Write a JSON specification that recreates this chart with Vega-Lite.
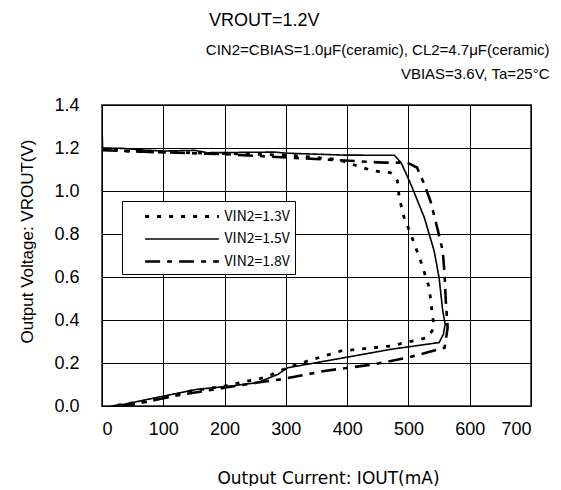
{
  "$schema": "https://vega.github.io/schema/vega-lite/v6.json",
  "width": 429,
  "height": 301,
  "padding": {"left": 18, "top": 12, "right": 10, "bottom": 0},
  "background": "white",
  "title": {
    "text": "VROUT=1.2V",
    "anchor": "start",
    "frame": "group",
    "dx": 107,
    "font": "Liberation Sans",
    "fontSize": 18,
    "fontWeight": "normal",
    "color": "#000",
    "offset": 12
  },
  "data": {
    "values": [
      {"s": "VIN2=1.5V", "k": 0, "i": 0, "v": 1.30},
      {"s": "VIN2=1.5V", "k": 1, "i": 1, "v": 1.20},
      {"s": "VIN2=1.5V", "k": 2, "i": 20, "v": 1.199},
      {"s": "VIN2=1.5V", "k": 3, "i": 36, "v": 1.198},
      {"s": "VIN2=1.5V", "k": 4, "i": 70, "v": 1.19},
      {"s": "VIN2=1.5V", "k": 5, "i": 102, "v": 1.186},
      {"s": "VIN2=1.5V", "k": 6, "i": 151, "v": 1.189},
      {"s": "VIN2=1.5V", "k": 7, "i": 172, "v": 1.178},
      {"s": "VIN2=1.5V", "k": 8, "i": 281, "v": 1.181},
      {"s": "VIN2=1.5V", "k": 9, "i": 300, "v": 1.176},
      {"s": "VIN2=1.5V", "k": 10, "i": 395, "v": 1.167},
      {"s": "VIN2=1.5V", "k": 11, "i": 477, "v": 1.166},
      {"s": "VIN2=1.5V", "k": 12, "i": 488, "v": 1.132},
      {"s": "VIN2=1.5V", "k": 13, "i": 504, "v": 1.031},
      {"s": "VIN2=1.5V", "k": 14, "i": 526, "v": 0.876},
      {"s": "VIN2=1.5V", "k": 15, "i": 542, "v": 0.721},
      {"s": "VIN2=1.5V", "k": 16, "i": 550, "v": 0.597},
      {"s": "VIN2=1.5V", "k": 17, "i": 556, "v": 0.442},
      {"s": "VIN2=1.5V", "k": 18, "i": 560, "v": 0.380},
      {"s": "VIN2=1.5V", "k": 19, "i": 557, "v": 0.333},
      {"s": "VIN2=1.5V", "k": 20, "i": 550, "v": 0.295},
      {"s": "VIN2=1.5V", "k": 21, "i": 472, "v": 0.264},
      {"s": "VIN2=1.5V", "k": 22, "i": 396, "v": 0.225},
      {"s": "VIN2=1.5V", "k": 23, "i": 303, "v": 0.178},
      {"s": "VIN2=1.5V", "k": 24, "i": 287, "v": 0.147},
      {"s": "VIN2=1.5V", "k": 25, "i": 254, "v": 0.109},
      {"s": "VIN2=1.5V", "k": 26, "i": 211, "v": 0.093},
      {"s": "VIN2=1.5V", "k": 27, "i": 156, "v": 0.078},
      {"s": "VIN2=1.5V", "k": 28, "i": 102, "v": 0.047},
      {"s": "VIN2=1.5V", "k": 29, "i": 36, "v": 0.008},
      {"s": "VIN2=1.5V", "k": 30, "i": 15, "v": 0.0},

      {"s": "VIN2=1.3V", "k": 0, "i": 0, "v": 1.195},
      {"s": "VIN2=1.3V", "k": 1, "i": 36, "v": 1.186},
      {"s": "VIN2=1.3V", "k": 2, "i": 100, "v": 1.18},
      {"s": "VIN2=1.3V", "k": 3, "i": 200, "v": 1.175},
      {"s": "VIN2=1.3V", "k": 4, "i": 308, "v": 1.166},
      {"s": "VIN2=1.3V", "k": 5, "i": 384, "v": 1.147},
      {"s": "VIN2=1.3V", "k": 6, "i": 417, "v": 1.116},
      {"s": "VIN2=1.3V", "k": 7, "i": 444, "v": 1.093},
      {"s": "VIN2=1.3V", "k": 8, "i": 471, "v": 1.085},
      {"s": "VIN2=1.3V", "k": 9, "i": 482, "v": 1.047},
      {"s": "VIN2=1.3V", "k": 10, "i": 485, "v": 0.969},
      {"s": "VIN2=1.3V", "k": 11, "i": 493, "v": 0.876},
      {"s": "VIN2=1.3V", "k": 12, "i": 504, "v": 0.798},
      {"s": "VIN2=1.3V", "k": 13, "i": 520, "v": 0.674},
      {"s": "VIN2=1.3V", "k": 14, "i": 534, "v": 0.550},
      {"s": "VIN2=1.3V", "k": 15, "i": 539, "v": 0.426},
      {"s": "VIN2=1.3V", "k": 16, "i": 542, "v": 0.364},
      {"s": "VIN2=1.3V", "k": 17, "i": 531, "v": 0.318},
      {"s": "VIN2=1.3V", "k": 18, "i": 471, "v": 0.279},
      {"s": "VIN2=1.3V", "k": 19, "i": 390, "v": 0.256},
      {"s": "VIN2=1.3V", "k": 20, "i": 335, "v": 0.209},
      {"s": "VIN2=1.3V", "k": 21, "i": 303, "v": 0.178},
      {"s": "VIN2=1.3V", "k": 22, "i": 265, "v": 0.132},
      {"s": "VIN2=1.3V", "k": 23, "i": 200, "v": 0.093},
      {"s": "VIN2=1.3V", "k": 24, "i": 145, "v": 0.070},
      {"s": "VIN2=1.3V", "k": 25, "i": 91, "v": 0.031},
      {"s": "VIN2=1.3V", "k": 26, "i": 36, "v": 0.008},
      {"s": "VIN2=1.3V", "k": 27, "i": 15, "v": 0.0},

      {"s": "VIN2=1.8V", "k": 0, "i": 0, "v": 1.19},
      {"s": "VIN2=1.8V", "k": 1, "i": 100, "v": 1.18},
      {"s": "VIN2=1.8V", "k": 2, "i": 200, "v": 1.171},
      {"s": "VIN2=1.8V", "k": 3, "i": 308, "v": 1.155},
      {"s": "VIN2=1.8V", "k": 4, "i": 460, "v": 1.132},
      {"s": "VIN2=1.8V", "k": 5, "i": 498, "v": 1.132},
      {"s": "VIN2=1.8V", "k": 6, "i": 514, "v": 1.109},
      {"s": "VIN2=1.8V", "k": 7, "i": 526, "v": 1.031},
      {"s": "VIN2=1.8V", "k": 8, "i": 536, "v": 0.953},
      {"s": "VIN2=1.8V", "k": 9, "i": 547, "v": 0.829},
      {"s": "VIN2=1.8V", "k": 10, "i": 556, "v": 0.721},
      {"s": "VIN2=1.8V", "k": 11, "i": 559, "v": 0.612},
      {"s": "VIN2=1.8V", "k": 12, "i": 561, "v": 0.488},
      {"s": "VIN2=1.8V", "k": 13, "i": 564, "v": 0.364},
      {"s": "VIN2=1.8V", "k": 14, "i": 559, "v": 0.271},
      {"s": "VIN2=1.8V", "k": 15, "i": 499, "v": 0.225},
      {"s": "VIN2=1.8V", "k": 16, "i": 444, "v": 0.194},
      {"s": "VIN2=1.8V", "k": 17, "i": 363, "v": 0.163},
      {"s": "VIN2=1.8V", "k": 18, "i": 292, "v": 0.124},
      {"s": "VIN2=1.8V", "k": 19, "i": 254, "v": 0.109},
      {"s": "VIN2=1.8V", "k": 20, "i": 200, "v": 0.085},
      {"s": "VIN2=1.8V", "k": 21, "i": 118, "v": 0.047},
      {"s": "VIN2=1.8V", "k": 22, "i": 53, "v": 0.008},
      {"s": "VIN2=1.8V", "k": 23, "i": 26, "v": 0.0}
    ]
  },
  "layer": [
    {
      "mark": {"type": "line", "color": "#000", "clip": true},
      "encoding": {
        "x": {
          "field": "i", "type": "quantitative",
          "scale": {"domain": [0, 700], "nice": false},
          "axis": {"values": [0, 100, 200, 300, 400, 500, 600, 700], "title": "Output Current: IOUT(mA)", "titleFont": "DejaVu Sans", "titleFontSize": 17, "titleX": 226, "labelPadding": 14, "titlePadding": 32}
        },
        "y": {
          "field": "v", "type": "quantitative",
          "scale": {"domain": [0, 1.4], "nice": false},
          "axis": {"values": [0, 0.2, 0.4, 0.6, 0.8, 1.0, 1.2, 1.4], "format": ".1f", "title": "Output Voltage: VROUT(V)", "titleFont": "Liberation Sans", "titleFontSize": 17, "titleY": 136, "labelPadding": 23, "titlePadding": 17}
        },
        "order": {"field": "k", "type": "quantitative"},
        "strokeDash": {
          "field": "s", "type": "nominal",
          "scale": {"domain": ["VIN2=1.3V", "VIN2=1.5V", "VIN2=1.8V"], "range": [[4, 8], [1, 0], [15, 7, 5, 7]]},
          "legend": {"title": null}
        },
        "strokeWidth": {
          "field": "s", "type": "nominal",
          "scale": {"type": "ordinal", "domain": ["VIN2=1.3V", "VIN2=1.5V", "VIN2=1.8V"], "range": [2.8, 1.6, 2.6]},
          "legend": {"title": null}
        }
      }
    },
    {
      "mark": {"type": "point", "opacity": 0},
      "encoding": {
        "x": {
          "field": "i", "type": "quantitative",
          "scale": {"domain": [0, 700], "nice": false},
          "axis": {
            "orient": "top", "labels": false, "ticks": false, "domain": false, "grid": false,
            "title": ["CIN2=CBIAS=1.0μF(ceramic), CL2=4.7μF(ceramic)", "VBIAS=3.6V, Ta=25°C"],
            "titleFont": "Liberation Sans", "titleFontSize": 15,
            "titleAlign": "right", "titleAnchor": "end", "titleX": 447,
            "titleLineHeight": 24, "titlePadding": 24
          }
        }
      }
    }
  ],
  "resolve": {"axis": {"x": "independent"}},
  "config": {
    "view": {"stroke": "#555", "strokeWidth": 2},
    "axis": {
      "grid": true, "gridColor": "#000", "gridOpacity": 1, "gridWidth": 1,
      "domain": false, "ticks": false, "tickSize": 0,
      "labelFont": "Liberation Sans", "labelFontSize": 18, "labelColor": "#000",
      "titleFont": "Noto Sans CJK JP", "titleFontSize": 16, "titleFontWeight": "normal", "titleColor": "#000"
    },
    "legend": {
      "orient": "none", "legendX": 20, "legendY": 96,
      "fillColor": "white", "strokeColor": "#000", "padding": 5,
      "symbolType": "M-4.1,0H4.1", "symbolSize": 324, "symbolStrokeColor": "#000",
      "symbolOffset": 44.5,
      "labelFont": "Noto Sans CJK JP", "labelFontSize": 14, "labelColor": "#000",
      "labelOffset": 32, "labelExpr": "datum.label + '\u00a0\u00a0\u00a0\u00a0\u00a0\u00a0'",
      "rowPadding": 5, "cornerRadius": 0
    }
  }
}
